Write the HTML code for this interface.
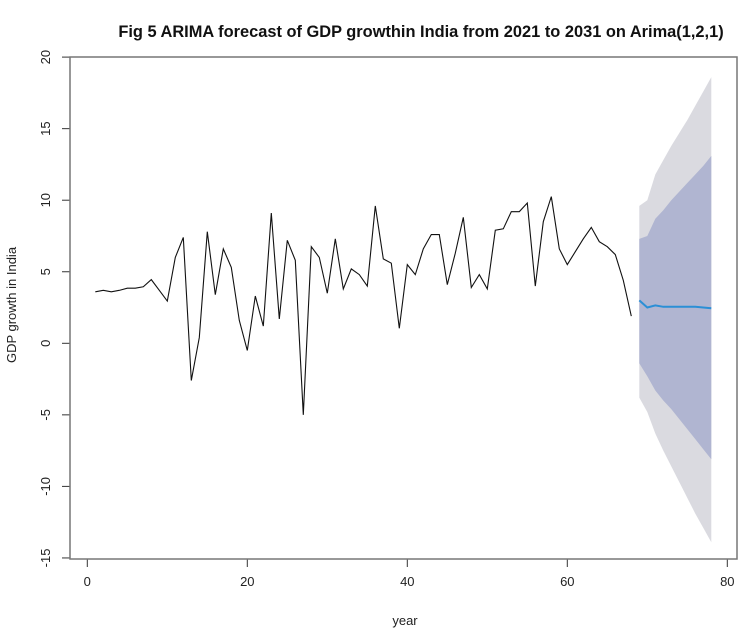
<!DOCTYPE html>
<html><head><meta charset="utf-8"><style>
body{margin:0;background:#fff;}
svg{display:block;font-family:"Liberation Sans",Arial,sans-serif;}
</style></head><body>
<svg id="chart" width="742" height="634">
<text x="421" y="37" text-anchor="middle" font-size="16.4" font-weight="bold" fill="#111">Fig 5 ARIMA forecast of GDP growthin India from 2021 to 2031 on Arima(1,2,1)</text>
<text x="405" y="625" text-anchor="middle" font-size="13" fill="#222">year</text>
<text transform="translate(16,305) rotate(-90)" text-anchor="middle" font-size="13" fill="#222">GDP growth in India</text>
<g id="bands"></g>
<g id="series"></g>
<g id="axes"></g>
<rect x="70" y="57" width="667" height="502" fill="none" stroke="#777" stroke-width="1.5"/>
</svg>
<script>
const gdp=[3.6,3.7,3.6,3.7,3.85,3.85,3.95,4.45,3.7,2.95,6.0,7.4,-2.6,0.4,7.8,3.4,6.6,5.3,1.6,-0.5,3.3,1.2,9.1,1.7,7.2,5.8,-5.0,6.75,6.0,3.5,7.3,3.8,5.2,4.8,4.0,9.6,5.9,5.6,1.05,5.5,4.8,6.6,7.6,7.6,4.1,6.3,8.8,3.9,4.8,3.8,7.9,8.0,9.2,9.2,9.8,4.0,8.5,10.25,6.6,5.5,6.4,7.3,8.1,7.1,6.75,6.2,4.4,1.9];
const fcMean=[3.0,2.5,2.65,2.55,2.55,2.55,2.55,2.55,2.5,2.45];
const hi80=[7.3,7.5,8.7,9.3,10.0,10.6,11.2,11.8,12.4,13.1];
const lo80=[-1.4,-2.3,-3.3,-4.0,-4.6,-5.3,-6.0,-6.7,-7.4,-8.1];
const hi95=[9.6,10.0,11.8,12.8,13.8,14.7,15.6,16.6,17.6,18.6];
const lo95=[-3.8,-4.8,-6.3,-7.5,-8.6,-9.7,-10.8,-11.9,-12.9,-13.9];
const xTicks=[0,20,40,60,80];
const yTicks=[-15,-10,-5,0,5,10,15,20];
const NS="http://www.w3.org/2000/svg";
const xs=v=>87.3+v*8.0;
const ys=v=>343.3-v*14.31;
function mk(tag,attrs,parent){const e=document.createElementNS(NS,tag);for(const k in attrs)e.setAttribute(k,attrs[k]);parent.appendChild(e);return e;}
const bands=document.getElementById('bands'),series=document.getElementById('series'),axes=document.getElementById('axes');
const t0=gdp.length+1;
function bandPath(hi,lo){let p=hi.map((v,i)=>xs(t0+i)+','+ys(v));let q=lo.map((v,i)=>xs(t0+i)+','+ys(v)).reverse();return p.concat(q).join(' ');}
let b95=mk('polygon',{points:bandPath(hi95,lo95),fill:'#dadae0'},bands);


let b80=mk('polygon',{points:bandPath(hi80,lo80),fill:'#b0b5d1'},bands);


let hl=mk('polyline',{points:gdp.map((v,i)=>xs(i+1)+','+ys(v)).join(' '),fill:'none',stroke:'#111','stroke-width':1.1},series);


let fl=mk('polyline',{points:fcMean.map((v,i)=>xs(t0+i)+','+ys(v)).join(' '),fill:'none',stroke:'#2b8fd6','stroke-width':2},series);


xTicks.forEach(v=>{
 const x=xs(v);
 mk('line',{x1:x,x2:x,y1:559,y2:567,stroke:'#333'},axes);
 const t=mk('text',{x:x,y:586,'text-anchor':'middle','font-size':13,fill:'#222'},axes);
 t.textContent=v;
 
 
});
yTicks.forEach(v=>{
 const y=ys(v);
 mk('line',{x1:62,x2:70,y1:y,y2:y,stroke:'#333'},axes);
 const t=mk('text',{transform:'translate(50,'+y+') rotate(-90)','text-anchor':'middle','font-size':13,fill:'#222'},axes);
 t.textContent=v;
 
 
});
</script>
</body></html>
